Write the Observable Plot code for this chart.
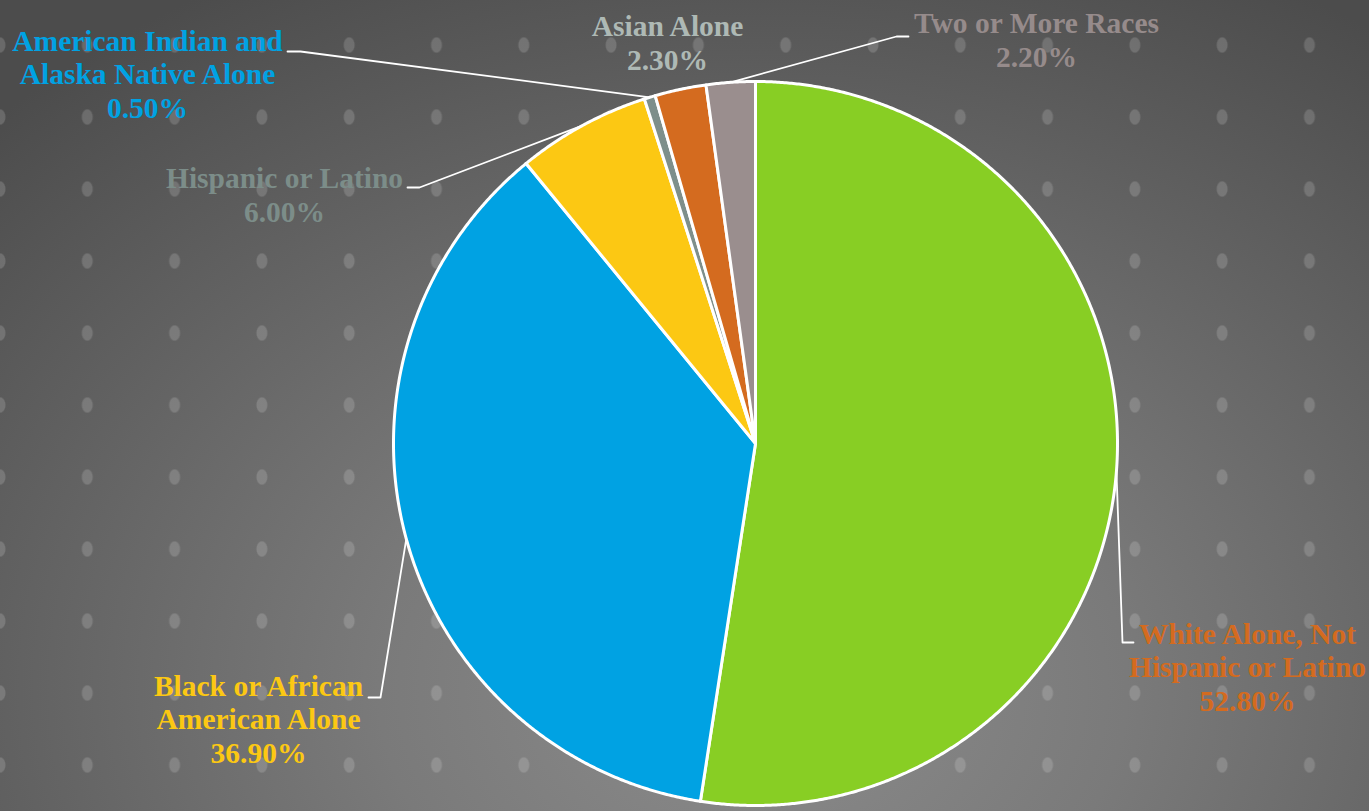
<!DOCTYPE html>
<html>
<head>
<meta charset="utf-8">
<script src="https://cdn.jsdelivr.net/npm/d3@7"></script>
<script src="https://cdn.jsdelivr.net/npm/@observablehq/plot@0.6"></script>
<style>
  html, body { margin: 0; padding: 0; }
  #chart {
    width: 1369px; height: 811px; overflow: hidden;
    background-image:
      radial-gradient(6px 8.5px at 50% 50%, rgba(255,255,255,0.16) 0, rgba(255,255,255,0.16) 80%, rgba(255,255,255,0) 100%),
      radial-gradient(ellipse 78% 100% at 55% 85%, #8c8c8c 0%, #7a7a7a 35%, #616161 70%, #4c4c4c 100%);
    background-size: 87.3px 72px, 100% 100%;
    background-position: -43.65px 9px, 0 0;
    background-repeat: repeat, no-repeat;
  }
</style>
</head>
<body>
<div id="chart"></div>
<script>
// ---- data ----
const categories = [
  "White Alone, Not Hispanic or Latino",
  "Black or African American Alone",
  "Hispanic or Latino",
  "American Indian and Alaska Native Alone",
  "Asian Alone",
  "Two or More Races"
];
const values = [52.8, 36.9, 6.0, 0.5, 2.3, 2.2];
const labelLines = [
  "White Alone, Not\nHispanic or Latino",
  "Black or African\nAmerican Alone",
  "Hispanic or Latino",
  "American Indian and\nAlaska Native Alone",
  "Asian Alone",
  "Two or More Races"
];

// ---- styles ----
const sliceColors = ["#88CE24", "#00A2E3", "#FCC813", "#7E8F8B", "#D46B1F", "#9A8E8E"];
const labelColors = ["#D46B1F", "#FCC813", "#7C8D89", "#00A2E3", "#AEB9B5", "#968B8B"];

// ---- layout ----
const W = 1369, H = 811;
const cx = 755, cy = 443, R = 362;
// label anchor: text centre x, baseline of last line
const labelPos = [
  [1247, 710], [258, 762], [284, 221], [147, 117], [667, 69], [1036, 66]
];
// leader elbows (null = no leader)
const leaderElbows = [
  [[1122, 642], [1133, 642]],
  [[380, 697], [368, 697]],
  [[419, 187], [407, 187]],
  [[300, 51], [287, 51]],
  null,
  [[896, 36], [908, 36]]
];

const arcs = d3.pie().sort(null).value(d => d)(values);

const pt = (a, r) => [cx + r * Math.sin(a), cy - r * Math.cos(a)];

const slicePts = [];
arcs.forEach((a, i) => {
  slicePts.push({name: categories[i], color: sliceColors[i], x: cx, y: cy});
  const n = Math.max(2, Math.ceil((a.endAngle - a.startAngle) / 0.005));
  for (let k = 0; k <= n; k++) {
    const t = a.startAngle + (a.endAngle - a.startAngle) * k / n;
    const [x, y] = pt(t, R);
    slicePts.push({name: categories[i], color: sliceColors[i], x, y});
  }
});

const leaderPts = [];
arcs.forEach((a, i) => {
  if (!leaderElbows[i]) return;
  const mid = (a.startAngle + a.endAngle) / 2;
  const [x0, y0] = pt(mid, R);
  leaderPts.push({name: categories[i], x: x0, y: y0});
  leaderElbows[i].forEach(([x, y]) => leaderPts.push({name: categories[i], x, y}));
});

const labels = categories.map((c, i) => ({
  text: labelLines[i] + "\n" + values[i].toFixed(2) + "%",
  color: labelColors[i],
  x: labelPos[i][0],
  y: labelPos[i][1]
}));

const chart = Plot.plot({
  width: W, height: H,
  margin: 0,
  style: {background: "transparent", overflow: "visible"},
  x: {domain: [0, W], range: [0, W], axis: null},
  y: {domain: [0, H], range: [0, H], axis: null},
  color: {type: "identity"},
  marks: [
    Plot.line(slicePts, {
      x: "x", y: "y", z: "name", fill: "color",
      stroke: "white", strokeWidth: 3, strokeLinejoin: "round",
      curve: "linear-closed"
    }),
    Plot.line(leaderPts, {
      x: "x", y: "y", z: "name", stroke: "white", strokeWidth: 1.8
    }),
    Plot.text(labels, {
      x: "x", y: "y", text: "text", fill: "color",
      fontSize: 29.5, fontWeight: "bold", fontFamily: "'Liberation Serif', 'Times New Roman', serif",
      textAnchor: "middle", lineAnchor: "bottom", lineHeight: 1.13
    })
  ]
});
document.getElementById("chart").appendChild(chart);
</script>
</body>
</html>
